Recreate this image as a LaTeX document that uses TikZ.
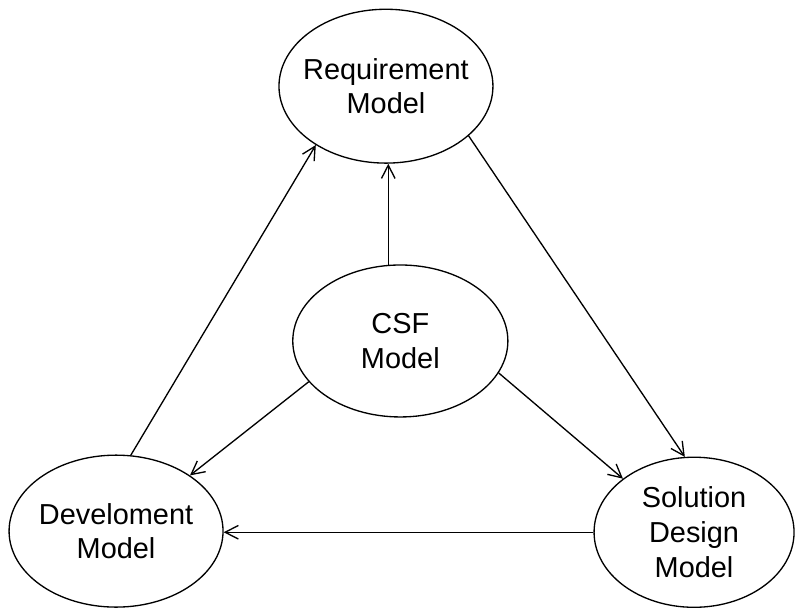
\documentclass[tikz,border=0pt]{standalone}
\usepackage{fontspec}
\setmainfont{Liberation Sans}
\usetikzlibrary{shapes.geometric,arrows.meta}

\begin{document}
\begin{tikzpicture}[>={Straight Barb[length=3.5mm,width=3.6mm]}, line width=1pt]
    \tikzstyle{every node}=[draw,ellipse,align=center,inner xsep=-0.5cm,inner ysep=0pt,font=\fontsize{21.75}{26.25}\selectfont]
    \useasboundingbox (-10.21,2.28) rectangle (10.82,-13.81);

    % requirement model
    \node[minimum width=5.66cm,minimum height=4.07cm] (req) at (0,0) {Requirement\\Model};

    % csf model
    \node[minimum width=5.69cm,minimum height=4.02cm] (csf) at (0.38,-6.74) {CSF\\Model};

    % develoment model
    \node[minimum width=5.66cm,minimum height=4.02cm] (dev) at (-7.14,-11.77) {Develoment\\Model};

    % solution design model
    \node[minimum width=5.29cm,minimum height=3.97cm] (sol) at (8.15,-11.80) {Solution\\Design\\Model};

    % arrows out of csf
    \draw[->] (csf.99) -- (csf.99 |- req.south);
    \draw[->] (csf.204) -- (dev.37);
    \draw[->] (csf.-18) -- (sol.143);

    % round the outside
    \draw[->] (dev.79) -- (req.220);
    \draw[->] (req.-31) -- (sol.97);
    \draw[->] (sol.west) -- (sol.west -| dev.east);

\end{tikzpicture}
\end{document}
